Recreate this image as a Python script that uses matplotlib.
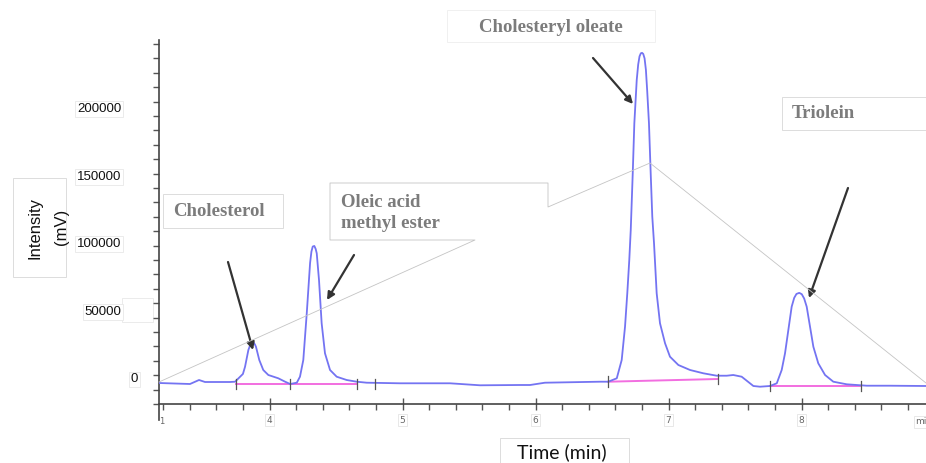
import matplotlib
matplotlib.use('Agg')
import matplotlib.pyplot as plt
from matplotlib.lines import Line2D
from matplotlib.patches import Rectangle
from matplotlib.ticker import FixedLocator, MultipleLocator

# chromatogram trace (time in min, intensity in mV)
time_min = [3.169, 3.402, 3.470, 3.515, 3.703, 3.741, 3.800, 3.816, 3.841, 3.858, 3.870,
            3.880, 3.890, 3.898, 3.923, 3.953, 3.991, 4.066, 4.117, 4.155, 4.205,
            4.229, 4.254, 4.280, 4.305, 4.315, 4.325, 4.337, 4.347, 4.355, 4.372,
            4.392, 4.417, 4.455, 4.505, 4.580, 4.655, 4.731,
            4.981, 5.357, 5.583, 5.883, 5.959, 6.071, 6.485,
            6.547, 6.611, 6.648, 6.673, 6.690, 6.705, 6.716, 6.731, 6.743, 6.761,
            6.772, 6.782, 6.792, 6.801, 6.810, 6.820, 6.830, 6.840, 6.853, 6.866,
            6.878, 6.891, 6.911, 6.936, 6.974, 7.011, 7.074, 7.162, 7.262, 7.362,
            7.438, 7.487, 7.550, 7.588, 7.638, 7.688, 7.763,
            7.814, 7.851, 7.876, 7.901, 7.926, 7.945, 7.962, 7.983, 8.002, 8.020,
            8.039, 8.064, 8.089, 8.126, 8.177, 8.239, 8.340, 8.490, 8.665, 8.936]
intensity = [-3700, -4440, -1480, -2960, -2960, -2740, 3000, 8360, 20720, 25300, 26600,
             26400, 24800, 23160, 13320, 5920, 2220, -220, -2740, -4440, -3480,
             960, 13320, 47880, 85100, 93500, 97300, 97700, 95500, 92280, 72520,
             40480, 18280, 5920, 960, -1480, -2740, -3480,
             -3920, -3920, -5400, -5180, -5180, -3480, -2740,
             -2740, -220, 13320, 37960, 62680, 87320, 109520, 151480, 188480, 220520,
             232000, 238000, 240300, 240600, 239800, 236500, 228000, 212000, 188480, 151480,
             119360, 99680, 62680, 40480, 25680, 15760, 9620, 5920, 3480, 1700,
             1700, 2220, 960, -2000, -5920, -6440, -5920,
             -3920, 5920, 18280, 35520, 52760, 59300, 62200, 63000, 62000, 58800,
             52760, 37960, 23160, 10880, 2220, -2740, -4660, -5700, -5700, -5920]

# integration baselines (start, end) and their levels
base_t0 = [3.750, 6.546, 7.761]
base_t1 = [4.660, 7.372, 8.450]
base_y0 = [-4440, -2740, -5920]
base_y1 = [-4440, -740, -5920]
# marker ticks drawn on the baselines
mark_t = [3.750, 4.155, 4.660, 4.795, 6.546, 7.372, 7.761, 8.450]
mark_y = [-4440, -4440, -4440, -4440, -2740, -740, -5920, -5920]

peak_names = ['Cholesterol', 'Oleic acid\nmethyl ester', 'Cholesteryl oleate', 'Triolein']
ytick_vals = [0, 50000, 100000, 150000, 200000]
ytick_labels = ['0', '50000', '100000', '150000', '200000']
xtick_vals = [4, 5, 6, 7, 8]

W, H = 926, 463


def px(x, y):
    # pixel position in the picture -> figure fraction
    return x / W, 1 - y / H


def frame(x0, y0, x1, y1, ec='#dcdcdc'):
    # white box with thin outline, corners given in picture pixels
    fig.add_artist(Rectangle(px(x0, y1), (x1 - x0) / W, (y1 - y0) / H,
                             transform=fig.transFigure, fc='white', ec=ec, lw=0.7))


fig = plt.figure(figsize=(W / 100, H / 100), dpi=100)
ax = fig.add_axes([159 / W, 1 - 420 / H, 1 - 159 / W, (420 - 40) / H])

ax.plot(time_min, intensity, color='#7474f2', lw=1.3, zorder=3)
for t0, t1, y0, y1 in zip(base_t0, base_t1, base_y0, base_y1):
    ax.plot([t0, t1], [y0, y1], color='#f26ee0', lw=1.4, zorder=2)
for t, y in zip(mark_t, mark_y):
    ax.plot([t, t], [y - 4000, y + 4000], color='#555555', lw=0.9, zorder=4)

ax.set_xlim(3.169, 8.936)
ax.set_ylim(-31080, 250120)

for s in ['top', 'right']:
    ax.spines[s].set_visible(False)
ax.spines['bottom'].set_position(('data', -19240))
for s in ['left', 'bottom']:
    ax.spines[s].set_color('#444444')
    ax.spines[s].set_linewidth(1.2)

# x axis ticks
ax.set_xticks(xtick_vals)
ax.set_xticklabels([str(v) for v in xtick_vals])
ax.xaxis.set_minor_locator(MultipleLocator(0.2))
ax.tick_params(axis='x', which='major', direction='inout', length=9, width=1,
               color='#555555', labelsize=6.5, labelcolor='#666666', pad=4)
ax.tick_params(axis='x', which='minor', direction='out', length=4, width=1,
               color='#555555')
for lab in ax.get_xticklabels():
    lab.set_bbox(dict(boxstyle='square,pad=0.15', fc='white', ec='#e4e4e4', lw=0.6))

# y axis ticks: labels placed at the values, small marks every ~10600
ax.set_yticks(ytick_vals)
ax.set_yticklabels(ytick_labels, fontfamily='Liberation Sans')
ax.yaxis.set_minor_locator(FixedLocator([-19240 + 10656 * k for k in range(26)]))
ax.tick_params(axis='y', which='major', length=0, labelsize=9.5, labelcolor='#111111')
ax.tick_params(axis='y', which='minor', direction='out', length=4, width=1,
               color='#555555')
pads = [15, 27, 27, 27, 27]
for tick, p in zip(ax.yaxis.get_major_ticks(), pads):
    tick.set_pad(p)
    tick.label1.set_bbox(dict(boxstyle='square,pad=0.15', fc='white', ec='#e8e8e8', lw=0.6))
ax.add_artist(Rectangle(px(122, 322), 31 / W, 24 / H, transform=fig.transFigure,
                        fill=False, ec='#e8e8e8', lw=0.6, clip_on=False))
fig.text(*px(162, 421), '1', fontsize=6, color='#666666', ha='center', va='center')
fig.text(*px(921, 422), 'mi', fontsize=6.5, color='#666666', ha='center', va='center',
         bbox=dict(boxstyle='square,pad=0.15', fc='white', ec='#e4e4e4', lw=0.6))

# callout outline lines
gx = [159, 475, 330, 330, 548, 548, 650, 926]
gy = [382, 240, 240, 183, 183, 207, 163, 383]
fig.add_artist(Line2D([x / W for x in gx], [1 - y / H for y in gy],
                      transform=fig.transFigure, color='#c4c4c4', lw=0.6))

# annotation labels
lab_style = dict(fontfamily='Liberation Serif', fontweight='bold', fontsize=13.5,
                 color='#7c7c7c')
frame(163, 194, 283, 228)
fig.text(*px(173, 212), peak_names[0], ha='left', va='center', **lab_style)
fig.text(*px(341, 213), peak_names[1], ha='left', va='center', linespacing=1.25,
         **lab_style)
frame(447, 10, 655, 42, ec='#f0f0f0')
fig.text(*px(551, 27), peak_names[2], ha='center', va='center', **lab_style)
frame(782, 97, 930, 130)
fig.text(*px(792, 114), peak_names[3], ha='left', va='center', **lab_style)

# arrows pointing at the peaks
arrows = [((228, 262), (253, 350)), ((354, 255), (327, 300)),
          ((593, 58), (633, 104)), ((848, 188), (809, 298))]
for (x0, y0), (x1, y1) in arrows:
    ax.annotate('', xy=px(x1, y1), xytext=px(x0, y0), xycoords='figure fraction',
                textcoords='figure fraction',
                arrowprops=dict(arrowstyle='-|>', color='#333333', lw=1.6,
                                mutation_scale=11, shrinkA=0, shrinkB=0))

# axis titles in boxes
frame(13, 178, 66, 277)
fig.text(*px(35, 228), 'Intensity', rotation=90, ha='center', va='center',
         fontfamily='Liberation Sans', fontsize=12, color='#111111')
fig.text(*px(61, 227), '(mV)', rotation=90, ha='center', va='center',
         fontfamily='Liberation Sans', fontsize=12, color='#111111')
frame(500, 438, 629, 470)
fig.text(*px(562, 452), 'Time (min)', ha='center', va='center',
         fontfamily='Lato', fontsize=14, color='#111111')

fig.savefig('out.png', dpi=100)
